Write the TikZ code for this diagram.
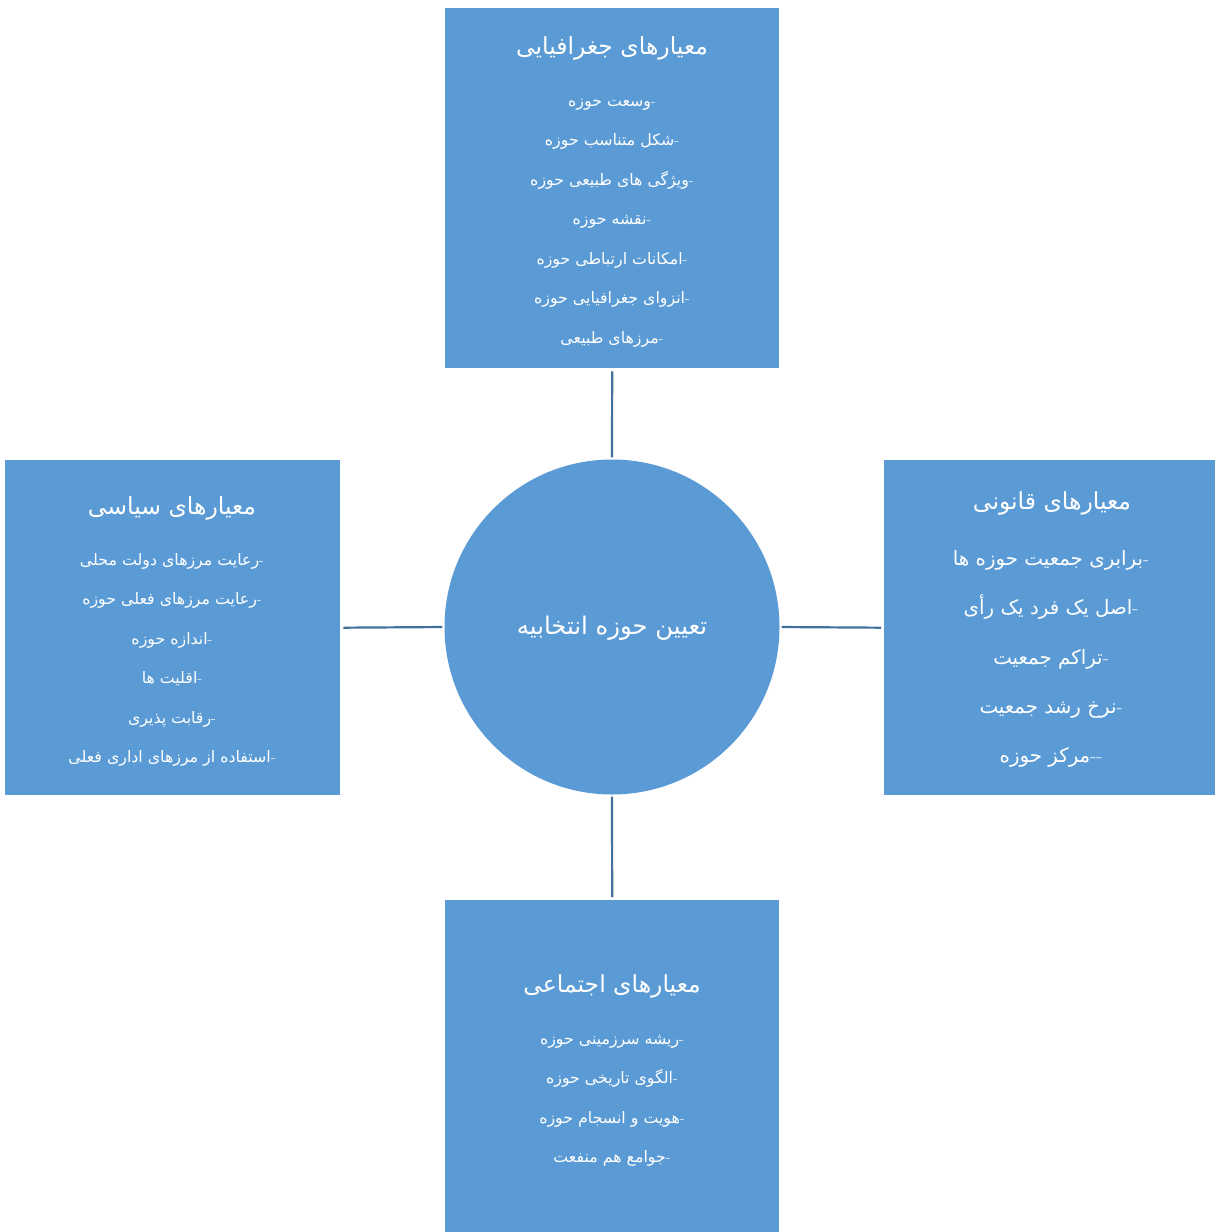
\documentclass[tikz,border=0pt]{standalone}
\usepackage{fontspec}
\TeXXeTstate=1
\newfontfamily\arabicfont[Script=Arabic]{DejaVu Sans}
\definecolor{boxblue}{HTML}{5B9BD5}
\definecolor{lineblue}{HTML}{41719C}
\newcommand\fa[1]{{\arabicfont\beginR#1\endR}}
\newcommand\li[1]{\fa{#1}\hbox{-}}
\begin{document}
\begin{tikzpicture}[x=1pt,y=-1pt,
  box/.style={fill=boxblue, draw=none, inner sep=0pt, anchor=north west},
  hub/.style={circle, fill=boxblue, draw=none, inner sep=0pt, minimum size=335pt},
  txt/.style={text=white, inner sep=0pt, text height=0.72em, text depth=0.12em, yshift=-3pt},
  title/.style={txt, font=\fontsize{23.5}{26}\selectfont},
  hubtitle/.style={txt, font=\fontsize{24.3}{27}\selectfont},
  item/.style={txt, font=\fontsize{15.8}{18}\selectfont},
  bigitem/.style={txt, font=\fontsize{19.8}{22}\selectfont},
  link/.style={draw=lineblue, line width=2.2pt, shorten <=3pt, shorten >=2pt}]
\useasboundingbox (0,0) rectangle (1215,1232);

% boxes
\node[box, minimum width=334pt, minimum height=360pt] (geo) at (445,8) {};
\node[box, minimum width=335pt, minimum height=335pt] (pol) at (5,460) {};
\node[box, minimum width=331pt, minimum height=335pt] (law) at (884,460) {};
\node[box, minimum width=334pt, minimum height=332pt] (soc) at (445,900) {};
\node[hub] (hub) at (612,627) {};

% connectors
\draw[link] (geo.south) -- (hub.north);
\draw[link] (soc.north) -- (hub.south);
\draw[link] (pol.east) -- (hub.west);
\draw[link] (law.west) -- (hub.east);

% centre
\node[hubtitle] (hubT) at (612,628) {\fa{تعیین حوزه انتخابیه}};

% geographic
\node[title] (geoT) at (612,48) {\fa{معیارهای جغرافیایی}};
\node[item] (geo1) at (612,100) {\li{وسعت حوزه}};
\node[item] (geo2) at (612,139) {\li{شکل متناسب حوزه}};
\node[item] (geo3) at (612,179) {\li{ویژگی های طبیعی حوزه}};
\node[item] (geo4) at (612,218) {\li{نقشه حوزه}};
\node[item] (geo5) at (612,258) {\li{امکانات ارتباطی حوزه}};
\node[item] (geo6) at (612,297) {\li{انزوای جغرافیایی حوزه}};
\node[item] (geo7) at (612,337) {\li{مرزهای طبیعی}};

% political
\node[title] (polT) at (172,508) {\fa{معیارهای سیاسی}};
\node[item] (pol1) at (172,559) {\li{رعایت مرزهای دولت محلی}};
\node[item] (pol2) at (172,598) {\li{رعایت مرزهای فعلی حوزه}};
\node[item] (pol3) at (172,638) {\li{اندازه حوزه}};
\node[item] (pol4) at (172,677) {\li{اقلیت ها}};
\node[item] (pol5) at (172,717) {\li{رقابت پذیری}};
\node[item] (pol6) at (172,756) {\li{استفاده از مرزهای اداری فعلی}};

% legal
\node[title] (lawT) at (1052,503) {\fa{معیارهای قانونی}};
\node[bigitem] (law1) at (1051,559) {\li{برابری جمعیت حوزه ها}};
\node[bigitem] (law2) at (1051,608) {\li{اصل یک فرد یک رأی}};
\node[bigitem] (law3) at (1051,658) {\li{تراکم جمعیت}};
\node[bigitem] (law4) at (1051,707) {\li{نرخ رشد جمعیت}};
\node[bigitem] (law5) at (1051,756) {\fa{مرکز حوزه}\hbox{-\kern0pt-}};

% social
\node[title] (socT) at (612,986) {\fa{معیارهای اجتماعی}};
\node[item] (soc1) at (612,1038) {\li{ریشه سرزمینی حوزه}};
\node[item] (soc2) at (612,1077) {\li{الگوی تاریخی حوزه}};
\node[item] (soc3) at (612,1117) {\li{هویت و انسجام حوزه}};
\node[item] (soc4) at (612,1156) {\li{جوامع هم منفعت}};
\end{tikzpicture}
\end{document}
